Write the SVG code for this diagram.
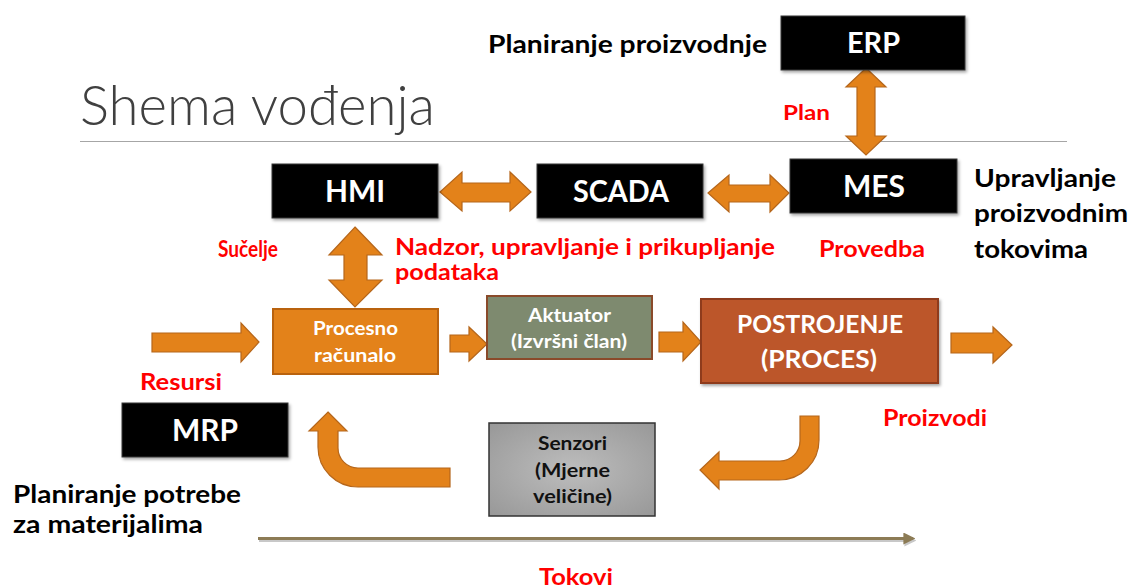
<svg xmlns="http://www.w3.org/2000/svg" width="1136" height="588" viewBox="0 0 1136 588">
<style>
text{font-family:Lato,"Open Sans","Liberation Sans",sans-serif;font-weight:700}
.w{fill:#fff}
.k{fill:#000}
.r{fill:#ff0000}
.blk{fill:#000;stroke:#3a3a3a;stroke-width:1}
.arr{fill:#e3821a;stroke:#b5661b;stroke-width:1.2;stroke-linejoin:miter}
</style>
<defs>
<filter id="sh" x="-10%" y="-10%" width="130%" height="140%">
<feDropShadow dx="1.5" dy="2" stdDeviation="1.5" flood-color="#000" flood-opacity="0.35"/>
</filter>
<radialGradient id="gray" cx="0.5" cy="0.5" r="0.7">
<stop offset="0" stop-color="#bdbdbd"/>
<stop offset="1" stop-color="#989898"/>
</radialGradient>
<marker id="ah" viewBox="0 0 10 10" refX="8" refY="5" markerWidth="4" markerHeight="4" orient="auto">
<path d="M0,0 L10,5 L0,10 Z" fill="#8c7b55"/>
</marker>
<marker id="ahs" viewBox="0 0 10 10" refX="8" refY="5" markerWidth="4" markerHeight="4" orient="auto">
<path d="M0,0 L10,5 L0,10 Z" fill="#c8c8c8"/>
</marker>
</defs>
<rect width="1136" height="588" fill="#fff"/>

<g id="title">
<text x="80" y="125" font-size="56" style="font-weight:300;fill:#404040" textLength="355" lengthAdjust="spacingAndGlyphs">Shema vođenja</text>
<line x1="80" y1="141.5" x2="1067" y2="141.5" stroke="#a6a6a6" stroke-width="1.2"/>
</g>

<g id="connectors">
<path class="arr" d="M866,68 L886,87 L875,87 L875,136 L886,136 L866,155 L846,136 L857,136 L857,87 L846,87 Z"/>
<path class="arr" d="M440,192 L462,172 L462,183 L510,183 L510,172 L531,192 L510,211 L510,202 L462,202 L462,211 Z"/>
<path class="arr" d="M708,193 L729,175 L729,185 L770,185 L770,175 L789,193 L770,212 L770,202 L729,202 L729,212 Z"/>
<path class="arr" d="M355,227 L382,255 L367,255 L367,280 L382,280 L355,307 L329,280 L344,280 L344,255 L329,255 Z"/>
<path class="arr" d="M152,333 L241,333 L241,323 L259,342 L241,362 L241,352 L152,352 Z"/>
<path class="arr" d="M450,335 L469,335 L469,327 L487,344 L469,361 L469,352 L450,352 Z"/>
<path class="arr" d="M659,332 L683,332 L683,322 L701,342 L683,361 L683,352 L659,352 Z"/>
<path class="arr" d="M951,333 L993,333 L993,327 L1012,345 L993,363 L993,353 L951,353 Z"/>
<path class="arr" d="M800,416 L819,416 L819,440 A40,40 0 0 1 779,480 L719,480 L719,489 L700,470 L719,452 L719,461 L780,461 A20,20 0 0 0 800,441 Z"/>
<path class="arr" d="M328,412 L347,431 L338,431 L338,448 A20,20 0 0 0 358,468 L450,468 L450,487 L358,487 A40,40 0 0 1 318,447 L318,431 L309,431 Z"/>
<line x1="259" y1="540.5" x2="914" y2="540.5" stroke="#c8c8c8" stroke-width="3" marker-end="url(#ahs)"/>
<line x1="258" y1="538.5" x2="913" y2="538.5" stroke="#8c7b55" stroke-width="3" marker-end="url(#ah)"/>
</g>

<g id="erp">
<rect class="blk" x="781" y="16" width="184" height="54" filter="url(#sh)"/>
<text class="w" x="847" y="53" font-size="28" textLength="53" lengthAdjust="spacingAndGlyphs">ERP</text>
</g>
<g id="lbl-planiranje-proizvodnje">
<text class="k" x="488" y="53" font-size="24" textLength="279" lengthAdjust="spacingAndGlyphs">Planiranje proizvodnje</text>
</g>
<g id="lbl-plan">
<text class="r" x="783" y="120" font-size="21" textLength="47" lengthAdjust="spacingAndGlyphs">Plan</text>
</g>

<g id="hmi">
<rect class="blk" x="272" y="164" width="166" height="54" filter="url(#sh)"/>
<text class="w" x="325" y="202" font-size="30" textLength="60" lengthAdjust="spacingAndGlyphs">HMI</text>
</g>
<g id="scada">
<rect class="blk" x="537" y="164" width="166" height="54" filter="url(#sh)"/>
<text class="w" x="573" y="202" font-size="30" textLength="96" lengthAdjust="spacingAndGlyphs">SCADA</text>
</g>
<g id="mes">
<rect class="blk" x="790" y="159" width="167" height="54" filter="url(#sh)"/>
<text class="w" x="843" y="197" font-size="30" textLength="62" lengthAdjust="spacingAndGlyphs">MES</text>
</g>
<g id="lbl-upravljanje">
<text class="k" x="974" y="187" font-size="25" textLength="142" lengthAdjust="spacingAndGlyphs">Upravljanje</text>
<text class="k" x="974" y="222" font-size="25" textLength="154" lengthAdjust="spacingAndGlyphs">proizvodnim</text>
<text class="k" x="974" y="258" font-size="25" textLength="114" lengthAdjust="spacingAndGlyphs">tokovima</text>
</g>
<g id="lbl-sucelje">
<text class="r" x="218" y="257" font-size="22" textLength="60" lengthAdjust="spacingAndGlyphs">Sučelje</text>
</g>
<g id="lbl-nadzor">
<text class="r" x="395" y="255" font-size="22" textLength="380" lengthAdjust="spacingAndGlyphs">Nadzor, upravljanje i prikupljanje</text>
<text class="r" x="395" y="280" font-size="22" textLength="104" lengthAdjust="spacingAndGlyphs">podataka</text>
</g>
<g id="lbl-provedba">
<text class="r" x="819" y="257" font-size="22" textLength="106" lengthAdjust="spacingAndGlyphs">Provedba</text>
</g>

<g id="procesno-racunalo">
<rect x="273" y="309" width="165" height="65" fill="#e3821a" stroke="#b9620e" stroke-width="2"/>
<text class="w" x="313" y="335" font-size="18" textLength="85" lengthAdjust="spacingAndGlyphs">Procesno</text>
<text class="w" x="314" y="362" font-size="18" textLength="82" lengthAdjust="spacingAndGlyphs">računalo</text>
</g>
<g id="aktuator">
<rect x="487" y="296" width="165" height="63" fill="#7e8a6f" stroke="#8a4a2a" stroke-width="2"/>
<text class="w" x="528" y="322" font-size="18" textLength="83" lengthAdjust="spacingAndGlyphs">Aktuator</text>
<text class="w" x="511" y="348" font-size="18" textLength="116" lengthAdjust="spacingAndGlyphs">(Izvršni član)</text>
</g>
<g id="postrojenje">
<rect x="701" y="299" width="237" height="84" fill="#bc572a" stroke="#8e3a1e" stroke-width="2" filter="url(#sh)"/>
<text class="w" x="737" y="333" font-size="24" textLength="166" lengthAdjust="spacingAndGlyphs">POSTROJENJE</text>
<text class="w" x="761" y="368" font-size="24" textLength="116" lengthAdjust="spacingAndGlyphs">(PROCES)</text>
</g>
<g id="lbl-resursi">
<text class="r" x="140" y="390" font-size="22" textLength="82" lengthAdjust="spacingAndGlyphs">Resursi</text>
</g>
<g id="lbl-proizvodi">
<text class="r" x="883" y="426" font-size="22" textLength="104" lengthAdjust="spacingAndGlyphs">Proizvodi</text>
</g>
<g id="mrp">
<rect class="blk" x="122" y="403" width="166" height="54" filter="url(#sh)"/>
<text class="w" x="172" y="441" font-size="30" textLength="66" lengthAdjust="spacingAndGlyphs">MRP</text>
</g>
<g id="senzori">
<rect x="489" y="423" width="166" height="93" fill="url(#gray)" stroke="#333" stroke-width="1.5"/>
<text x="538" y="450" font-size="19" fill="#111" textLength="69" lengthAdjust="spacingAndGlyphs">Senzori</text>
<text x="535" y="477" font-size="19" fill="#111" textLength="75" lengthAdjust="spacingAndGlyphs">(Mjerne</text>
<text x="533" y="503" font-size="19" fill="#111" textLength="79" lengthAdjust="spacingAndGlyphs">veličine)</text>
</g>
<g id="lbl-planiranje-potrebe">
<text class="k" x="13" y="503" font-size="25" textLength="228" lengthAdjust="spacingAndGlyphs">Planiranje potrebe</text>
<text class="k" x="13" y="533" font-size="25" textLength="190" lengthAdjust="spacingAndGlyphs">za materijalima</text>
</g>
<g id="lbl-tokovi">
<text class="r" x="539" y="585" font-size="22" textLength="74" lengthAdjust="spacingAndGlyphs">Tokovi</text>
</g>
</svg>
